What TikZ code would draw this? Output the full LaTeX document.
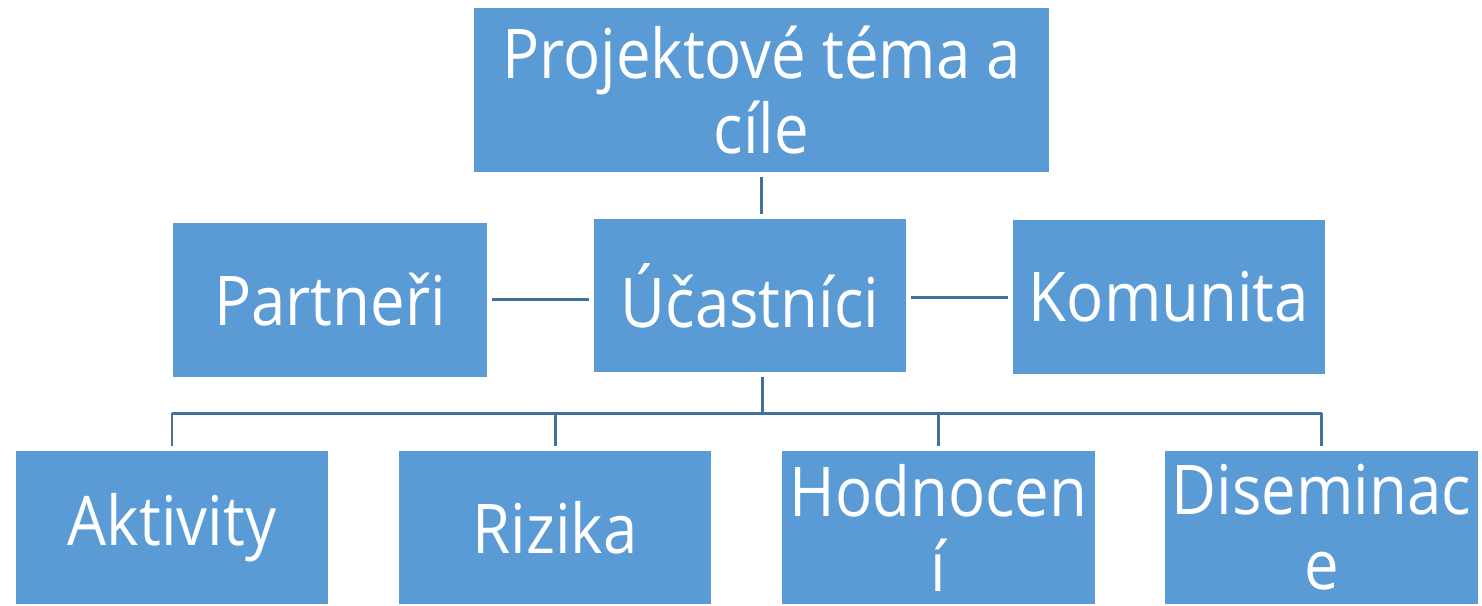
\documentclass[tikz,border=0pt]{standalone}
\usepackage{fontspec}
\setmainfont{Open Sans}[FakeStretch=0.9]
\usetikzlibrary{positioning}
\definecolor{boxblue}{HTML}{5B9BD5}
\definecolor{linkblue}{HTML}{41719C}

\begin{document}
\begin{tikzpicture}[
        x=0.01cm, y=-0.01cm,
        font=\fontsize{19.5}{21.3}\selectfont,
        % Styles
        box/.style={% For all the blue boxes
            rectangle,
            fill=boxblue,
            draw=white,
            line width=0.4pt,
            text=white,
            align=center,
            inner sep=0pt,
            minimum width=3.14cm,
            minimum height=1.55cm,
            },
        link/.style={% For the connecting lines
            draw=linkblue,
            line width=0.85pt,
            },
        ]
    \useasboundingbox (0,0) rectangle (1482,605);

    % Nodes
        % Top of the tree
        \node [box, minimum width=5.77cm, minimum height=1.66cm] (top) at (761.5,90) {Projektové téma a\\cíle};

        % Middle row
        \node [box, minimum width=3.16cm, minimum height=1.56cm] (partneri) at (330,300) {Partneři};
        \node [box] (ucastnici) at (750,295.5) {Účastníci};
        \node [box, minimum height=1.56cm] (komunita) at (1169,297) {Komunita};

        % Bottom row
        \node [box] (aktivity) at (172,527.5) {Aktivity};
        \node [box] (rizika) at (555,527.5) {Rizika};
        \node [box] (hodnoceni) at (938.5,527.5) {Hodnocen\\í};
        \node [box] (diseminace) at (1321.5,527.5) {Diseminac\\e};

    % Connecting all
        \draw [link, shorten <=1pt, shorten >=1pt] (top.south) -- (top.south |- ucastnici.north);
        \draw [link, shorten <=1pt, shorten >=1pt] (partneri.east) ++(0,-1) coordinate (pl) -- (pl -| ucastnici.west);
        \draw [link, shorten <=1pt, shorten >=1pt] (ucastnici.east) ++(0,1.5) coordinate (kl) -- (kl -| komunita.west);

        % Tree below the middle box
        \coordinate (bus) at (762,413);
        \draw [link, shorten <=1pt] (bus |- ucastnici.south) -- (bus);
        \draw [link] (aktivity |- bus) -- (diseminace |- bus);
        \draw [link, shorten >=1pt] (aktivity |- bus) -- (aktivity.north);
        \draw [link, shorten >=1pt] (rizika |- bus) -- (rizika.north);
        \draw [link, shorten >=1pt] (hodnoceni |- bus) -- (hodnoceni.north);
        \draw [link, shorten >=1pt] (diseminace |- bus) -- (diseminace.north);

\end{tikzpicture}
\end{document}
